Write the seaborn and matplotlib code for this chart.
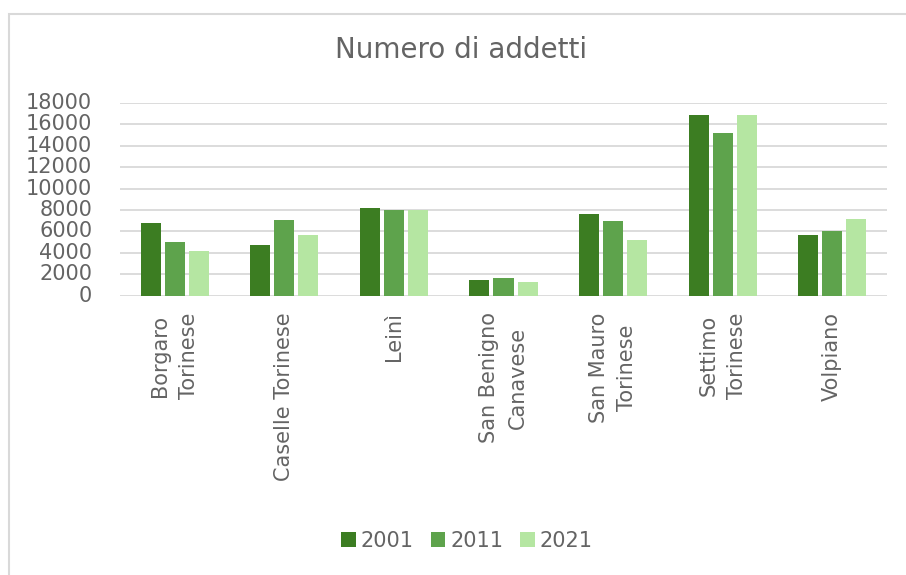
import matplotlib
matplotlib.use("Agg")
import matplotlib.pyplot as plt
import seaborn as sns
import pandas as pd
from matplotlib.patches import Rectangle

categories = ["Borgaro\nTorinese", "Caselle Torinese", "Leinì", "San Benigno\nCanavese",
              "San Mauro\nTorinese", "Settimo\nTorinese", "Volpiano"]
years = ["2001", "2011", "2021"]
v2001 = [6750, 4740, 8220, 1500, 7610, 16860, 5640]
v2011 = [5050, 7050, 8010, 1650, 7010, 15180, 6080]
v2021 = [4150, 5670, 7980, 1250, 5180, 16860, 7200]
colors = ["#3C7D22", "#5EA34C", "#B5E6A2"]

rows = []
for y, vals in zip(years, [v2001, v2011, v2021]):
    for c, v in zip(categories, vals):
        rows.append({"cat": c, "year": y, "val": v})
df = pd.DataFrame(rows)

sns.set_theme(style="white")
plt.rcParams["font.family"] = ["DejaVu Sans"]
grey = "#646464"

fig = plt.figure(figsize=(9.06, 5.75), dpi=100)
ax = fig.add_axes([120/906, 1-295.7/575, (887-120)/906, (295.7-103)/575])
sns.barplot(data=df, x="cat", y="val", hue="year", palette=colors, ax=ax,
            width=0.66, gap=0.17, edgecolor="none", linewidth=0, saturation=1)
ax.set_ylim(0, 18000)
ax.set_yticks(range(0, 18001, 2000))
ax.yaxis.grid(True, color="#D9D9D9", linewidth=1.3)
ax.set_axisbelow(True)
for s in ax.spines.values():
    s.set_visible(False)
ax.set_xlabel("")
ax.set_ylabel("")
ax.tick_params(axis="y", labelsize=15, labelcolor=grey, length=0, pad=20)
ax.tick_params(axis="x", labelsize=15, labelcolor=grey, length=0, pad=12)
for lbl in ax.get_xticklabels():
    lbl.set_rotation(90)
    lbl.set_ha("center")
    lbl.set_va("top")
    lbl.set_multialignment("center")
    lbl.set_linespacing(1.55)
for lbl in ax.get_yticklabels():
    lbl.set_va("center")

fig.text(461/906, 1-50/575, "Numero di addetti", ha="center", va="center", fontsize=20, color=grey)

leg = ax.legend(loc="center", bbox_to_anchor=((467-120)/767, (295.7-541)/(295.7-103)), ncol=3,
                frameon=False, fontsize=15, handlelength=0.7, handleheight=0.7,
                handletextpad=0.25, columnspacing=0.8, labelcolor=grey)
for h in leg.legend_handles:
    h.set_edgecolor("none")

fig.patches.append(Rectangle((8.5/906, -0.1), 2, (575-14)/575 + 0.1, transform=fig.transFigure,
                             fill=False, edgecolor="#D9D9D9", linewidth=1.5))
fig.savefig("out.png", dpi=100)
